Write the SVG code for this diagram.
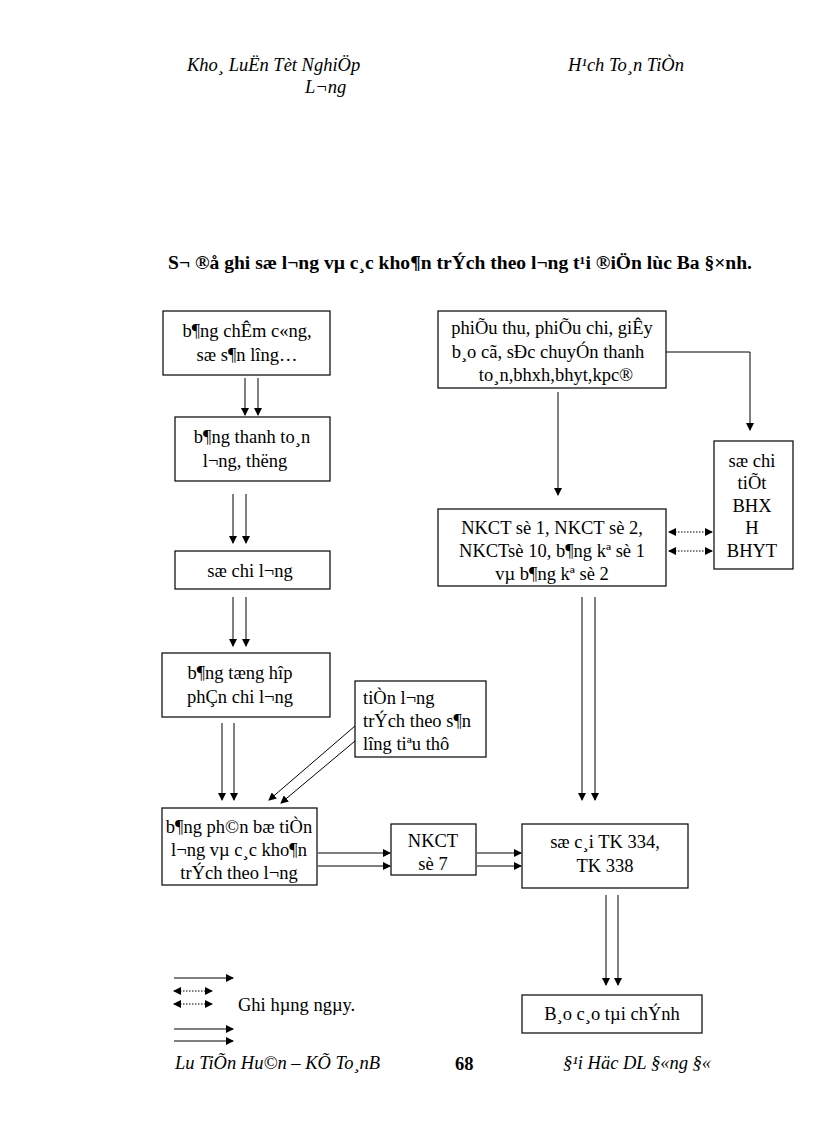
<svg xmlns="http://www.w3.org/2000/svg" width="816" height="1123" viewBox="0 0 816 1123">
<style>
text{font-family:"Liberation Serif","Times New Roman",serif;font-size:18.5px;fill:#000}
.c{text-anchor:middle}
.i{font-style:italic}
.b{font-weight:bold}
rect{fill:#fff;stroke:#000;stroke-width:1.2}
.l{stroke:#000;stroke-width:1;fill:none;marker-end:url(#a)}
.d{stroke:#000;stroke-width:1;fill:none;stroke-dasharray:1.5 1.5;marker-end:url(#a);marker-start:url(#s)}
</style>
<defs>
<marker id="a" markerWidth="8" markerHeight="8" refX="7" refY="4" orient="auto" markerUnits="userSpaceOnUse"><path d="M0,0 L8,4 L0,8 z"/></marker>
<marker id="s" markerWidth="8" markerHeight="8" refX="1" refY="4" orient="auto" markerUnits="userSpaceOnUse"><path d="M8,0 L0,4 L8,8 z"/></marker>
</defs>
<text class="i" x="187" y="71">Kho¸ LuËn Tèt NghiÖp</text>
<text class="i" x="305" y="93">L¬ng</text>
<text class="i" x="568" y="71">H¹ch To¸n TiÒn</text>
<text class="b" x="168" y="269" font-size="19" textLength="584" lengthAdjust="spacingAndGlyphs">S¬ ®å ghi sæ l¬ng  vµ c¸c kho¶n trÝch theo l¬ng  t¹i ®iÖn lùc Ba §×nh.</text>
<g id="b1"><rect x="163" y="311" width="167" height="64"/><text class="c" x="247" y="337">b¶ng chÊm c«ng,</text><text class="c" x="247" y="361">sæ s¶n lîng…</text></g>
<g id="b2"><rect x="175" y="417" width="155" height="64"/><text class="c" x="252" y="443">b¶ng thanh to¸n</text><text class="c" x="245" y="467">l¬ng,  thëng</text></g>
<g id="b3"><rect x="175" y="551" width="155" height="38"/><text class="c" x="250" y="577">sæ chi l¬ng</text></g>
<g id="b4"><rect x="162" y="653" width="168" height="64"/><text class="c" x="240" y="679">b¶ng tæng hîp</text><text class="c" x="240" y="703">phÇn chi l¬ng</text></g>
<g id="b5"><rect x="355" y="681" width="131" height="76"/><text x="363" y="704">tiÒn l¬ng</text><text x="363" y="727">trÝch theo s¶n</text><text x="363" y="750">lîng  tiªu thô</text></g>
<g id="b6"><rect x="162" y="808" width="155" height="77"/><text class="c" x="239" y="833">b¶ng ph©n bæ tiÒn</text><text class="c" x="239" y="856">l¬ng  vµ c¸c kho¶n</text><text class="c" x="239" y="879">trÝch theo l¬ng</text></g>
<g id="b7"><rect x="391" y="824" width="85" height="51"/><text class="c" x="433" y="847">NKCT</text><text class="c" x="433" y="870">sè 7</text></g>
<g id="b8"><rect x="522" y="824" width="166" height="64"/><text class="c" x="605" y="848">sæ c¸i TK 334,</text><text class="c" x="605" y="872">TK 338</text></g>
<g id="b9"><rect x="522" y="995" width="180" height="38"/><text class="c" x="612" y="1020">B¸o c¸o tµi chÝnh</text></g>
<g id="r1"><rect x="438" y="311" width="228" height="77"/><text class="c" x="552" y="334">phiÕu thu, phiÕu chi, giÊy</text><text class="c" x="548" y="358">b¸o cã, sÐc chuyÓn thanh</text><text class="c" x="556" y="381">to¸n,bhxh,bhyt,kpc®</text></g>
<g id="r2"><rect x="438" y="509" width="228" height="77"/><text class="c" x="552" y="534">NKCT sè 1, NKCT sè 2,</text><text class="c" x="552" y="557">NKCTsè 10, b¶ng kª sè 1</text><text class="c" x="552" y="580">vµ b¶ng kª sè 2</text></g>
<g id="r3"><rect x="714" y="441" width="79" height="128"/><text class="c" x="752" y="467">sæ chi</text><text class="c" x="752" y="489">tiÕt</text><text class="c" x="752" y="512">BHX</text><text class="c" x="752" y="534">H</text><text class="c" x="752" y="557">BHYT</text></g>
<g id="connectors">
<path class="l" d="M245,378V415"/><path class="l" d="M258,378V415"/>
<path class="l" d="M233,494V543"/><path class="l" d="M246,494V543"/>
<path class="l" d="M233,597V646"/><path class="l" d="M246,597V646"/>
<path class="l" d="M222,723V800"/><path class="l" d="M234,723V800"/>
<path class="l" d="M355,726L269,800"/><path class="l" d="M355,741L281,803"/>
<path class="l" d="M318,853H390"/><path class="l" d="M318,866H390"/>
<path class="l" d="M477,853H521"/><path class="l" d="M477,866H521"/>
<path class="l" d="M558,392V495"/>
<path class="l" d="M666,352H750V430"/>
<path class="d" d="M669,532H712"/><path class="d" d="M669,551H712"/>
<path class="l" d="M582,597V800"/><path class="l" d="M595,597V800"/>
<path class="l" d="M606,895V985"/><path class="l" d="M618,895V985"/>
<path class="l" d="M174,978H233"/>
<path class="d" d="M174,991H212"/><path class="d" d="M174,1004H212"/>
<path class="l" d="M174,1029H233"/><path class="l" d="M174,1041H233"/>
</g>
<text x="238" y="1011">Ghi hµng ngµy.</text>
<text class="i" x="175" y="1069">Lu  TiÕn Hu©n – KÕ To¸nB</text>
<text class="b" x="455" y="1070" font-size="20">68</text>
<text class="i" x="563" y="1069">§¹i Häc DL §«ng §«</text>
</svg>
